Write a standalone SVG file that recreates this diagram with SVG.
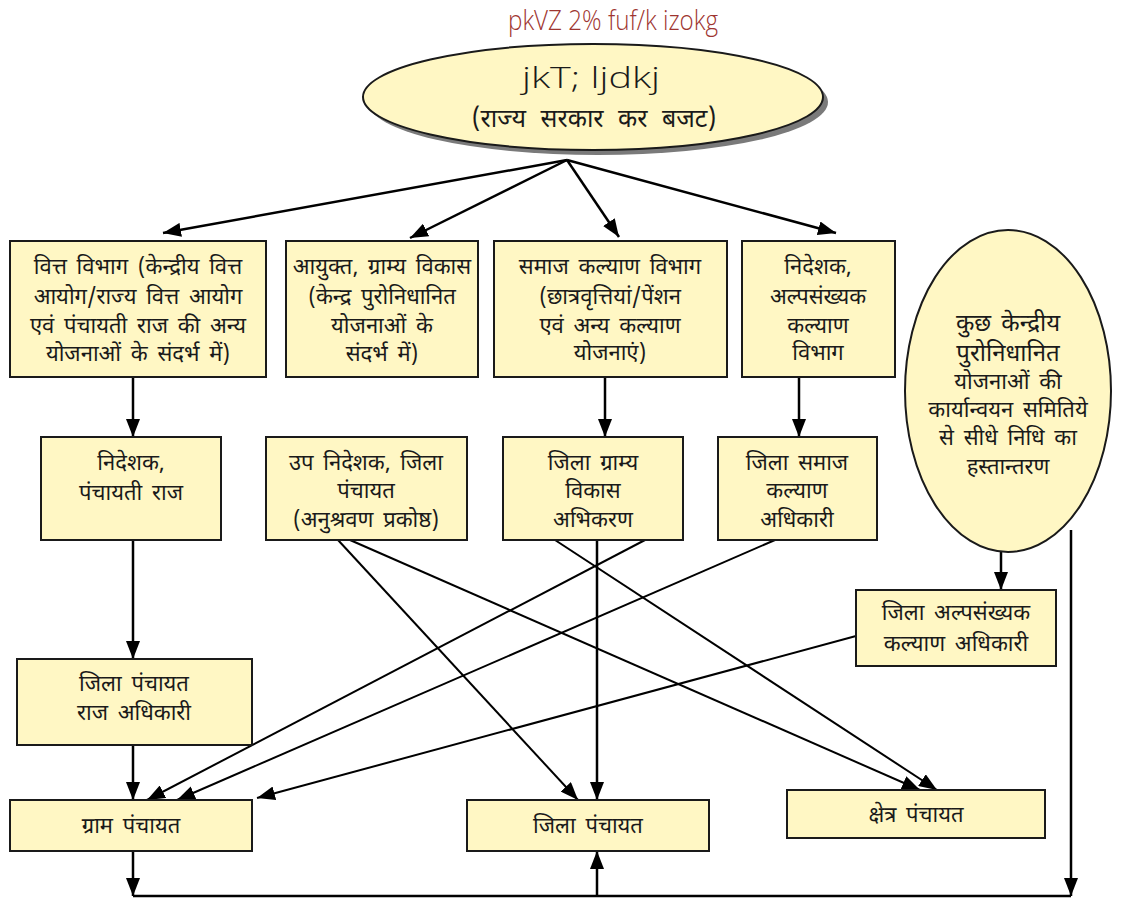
<svg xmlns="http://www.w3.org/2000/svg" width="1131" height="901" viewBox="0 0 1131 901">
<defs>
<style>
.box{fill:#fff7c4;stroke:#1a1a1a;stroke-width:2}
.t{font-family:"Noto Sans Devanagari","Noto Sans","Liberation Sans",sans-serif;font-size:22px;word-spacing:4px;fill:#1a1a1a;text-anchor:middle}
.big{font-size:24px}
.ln{stroke:#000;stroke-width:2.5;fill:none}
.dg{stroke:#000;stroke-width:2;fill:none}
.lat{font-family:"Open Sans","Liberation Sans",sans-serif;font-weight:300;text-anchor:middle}
</style>
<marker id="ah" viewBox="0 0 18 14" refX="18" refY="7" markerWidth="18" markerHeight="14" markerUnits="userSpaceOnUse" orient="auto">
<path d="M0,0 L18,7 L0,14 Z" fill="#000"/>
</marker>
</defs>
<rect width="1131" height="901" fill="#fff"/>
<text class="lat" x="613" y="30" font-size="27" fill="#9e3530" textLength="210" lengthAdjust="spacingAndGlyphs">pkVZ 2% fuf/k izokg</text>

<g id="connectors">
<line class="ln" x1="567" y1="160" x2="163" y2="233" marker-end="url(#ah)"/>
<line class="ln" x1="567" y1="160" x2="410" y2="238" marker-end="url(#ah)"/>
<line class="ln" x1="567" y1="160" x2="619" y2="237" marker-end="url(#ah)"/>
<line class="ln" x1="567" y1="160" x2="836" y2="233" marker-end="url(#ah)"/>
<line class="ln" x1="133" y1="377" x2="133" y2="437" marker-end="url(#ah)"/>
<line class="ln" x1="605" y1="377" x2="605" y2="437" marker-end="url(#ah)"/>
<line class="ln" x1="799" y1="377" x2="799" y2="437" marker-end="url(#ah)"/>
<line class="ln" x1="133" y1="540" x2="133" y2="659" marker-end="url(#ah)"/>
<line class="ln" x1="133" y1="745" x2="133" y2="800" marker-end="url(#ah)"/>
<line class="ln" x1="597" y1="540" x2="597" y2="800" marker-end="url(#ah)"/>
<line class="ln" x1="1001" y1="552" x2="1001" y2="590" marker-end="url(#ah)"/>
<line class="dg" x1="645" y1="540" x2="147" y2="800" marker-end="url(#ah)"/>
<line class="dg" x1="775" y1="540" x2="177" y2="800" marker-end="url(#ah)"/>
<line class="dg" x1="856" y1="636" x2="257" y2="798" marker-end="url(#ah)"/>
<line class="dg" x1="338" y1="540" x2="578" y2="800" marker-end="url(#ah)"/>
<line class="dg" x1="350" y1="540" x2="920" y2="790" marker-end="url(#ah)"/>
<line class="dg" x1="555" y1="540" x2="937" y2="790" marker-end="url(#ah)"/>
<line class="ln" x1="133" y1="851" x2="133" y2="896" marker-end="url(#ah)"/>
<line class="ln" x1="133" y1="896" x2="1071" y2="896"/>
<line class="ln" x1="1071" y1="530" x2="1071" y2="896" marker-end="url(#ah)"/>
<line class="ln" x1="597" y1="896" x2="597" y2="851" marker-end="url(#ah)"/>
</g>

<g id="n-budget">
<ellipse cx="598" cy="102" rx="230" ry="53" fill="#7a7a7a"/>
<ellipse cx="593" cy="97" rx="230" ry="53" fill="#fff7c4" stroke="#1a1a1a" stroke-width="2"/>
<text class="lat" x="591" y="88" font-size="30" fill="#1a1a1a" textLength="138" lengthAdjust="spacingAndGlyphs">jkT; ljdkj</text>
<text class="t" x="594" y="127" style="font-size:25px;word-spacing:8px">(राज्य सरकार कर बजट)</text>
</g>

<g id="n-vitt">
<rect class="box" x="10" y="241" width="256" height="136"/>
<text class="t" x="138" y="274">वित्त विभाग (केन्द्रीय वित्त</text>
<text class="t" x="138" y="304">आयोग/राज्य वित्त आयोग</text>
<text class="t" x="138" y="333">एवं पंचायती राज की अन्य</text>
<text class="t" x="138" y="361">योजनाओं के संदर्भ में)</text>
</g>
<g id="n-ayukt">
<rect class="box" x="286" y="241" width="192" height="136"/>
<text class="t" x="382" y="274">आयुक्त, ग्राम्य विकास</text>
<text class="t" x="382" y="304">(केन्द्र पुरोनिधानित</text>
<text class="t" x="382" y="333">योजनाओं के</text>
<text class="t" x="382" y="361">संदर्भ में)</text>
</g>
<g id="n-samaj">
<rect class="box" x="494" y="241" width="233" height="136"/>
<text class="t" x="610" y="274">समाज कल्याण विभाग</text>
<text class="t" x="610" y="304">(छात्रवृत्तियां/पेंशन</text>
<text class="t" x="610" y="333">एवं अन्य कल्याण</text>
<text class="t" x="610" y="360">योजनाएं)</text>
</g>
<g id="n-alp">
<rect class="box" x="742" y="241" width="153" height="136"/>
<text class="t" x="818" y="274">निदेशक,</text>
<text class="t" x="818" y="304">अल्पसंख्यक</text>
<text class="t" x="818" y="333">कल्याण</text>
<text class="t" x="818" y="360">विभाग</text>
</g>
<g id="n-kendra">
<ellipse cx="1008" cy="391" rx="103" ry="161" fill="#fff7c4" stroke="#1a1a1a" stroke-width="2"/>
<text class="t big" x="1008" y="331">कुछ केन्द्रीय</text>
<text class="t big" x="1008" y="361">पुरोनिधानित</text>
<text class="t" x="1008" y="389">योजनाओं की</text>
<text class="t" x="1008" y="417">कार्यान्वयन समितिये</text>
<text class="t" x="1008" y="445">से सीधे निधि का</text>
<text class="t" x="1008" y="474">हस्तान्तरण</text>
</g>
<g id="n-nideshak-pr">
<rect class="box" x="41" y="437" width="180" height="103"/>
<text class="t" x="131" y="470">निदेशक,</text>
<text class="t" x="131" y="500">पंचायती राज</text>
</g>
<g id="n-up-nideshak">
<rect class="box" x="266" y="437" width="201" height="103"/>
<text class="t" x="366" y="470">उप निदेशक, जिला</text>
<text class="t" x="366" y="498">पंचायत</text>
<text class="t" x="366" y="527">(अनुश्रवण प्रकोष्ठ)</text>
</g>
<g id="n-dgva">
<rect class="box" x="503" y="437" width="180" height="103"/>
<text class="t" x="593" y="470">जिला ग्राम्य</text>
<text class="t" x="593" y="498">विकास</text>
<text class="t" x="593" y="527">अभिकरण</text>
</g>
<g id="n-dsko">
<rect class="box" x="718" y="437" width="159" height="103"/>
<text class="t" x="797" y="470">जिला समाज</text>
<text class="t" x="797" y="498">कल्याण</text>
<text class="t" x="797" y="527">अधिकारी</text>
</g>
<g id="n-dpro">
<rect class="box" x="17" y="659" width="235" height="86"/>
<text class="t" x="134" y="691">जिला पंचायत</text>
<text class="t" x="134" y="720">राज अधिकारी</text>
</g>
<g id="n-dako">
<rect class="box" x="856" y="590" width="200" height="76"/>
<text class="t" x="956" y="620">जिला अल्पसंख्यक</text>
<text class="t" x="956" y="651">कल्याण अधिकारी</text>
</g>
<g id="n-gram">
<rect class="box" x="10" y="800" width="242" height="51"/>
<text class="t" x="131" y="833">ग्राम पंचायत</text>
</g>
<g id="n-zila">
<rect class="box" x="467" y="800" width="242" height="51"/>
<text class="t" x="588" y="833">जिला पंचायत</text>
</g>
<g id="n-kshetra">
<rect class="box" x="787" y="790" width="258" height="48"/>
<text class="t" x="916" y="822">क्षेत्र पंचायत</text>
</g>
</svg>
